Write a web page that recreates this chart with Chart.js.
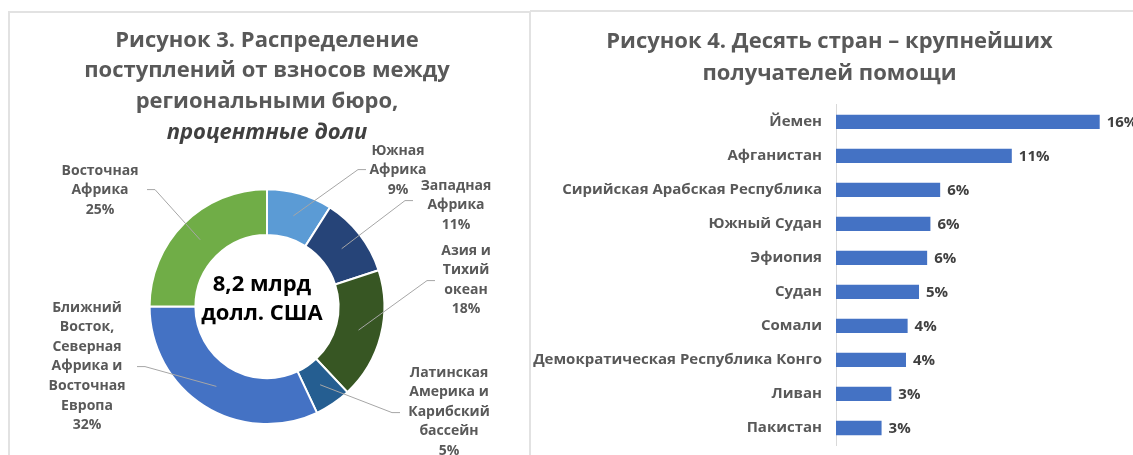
<!DOCTYPE html>
<html lang="ru">
<head>
<meta charset="utf-8">
<script src="https://cdn.jsdelivr.net/npm/chart.js@4.4.1/dist/chart.umd.min.js"></script>
<style>
  html, body { margin: 0; padding: 0; background: #fff; overflow: hidden; }
  body { width: 1133px; height: 455px; position: relative; font-family: "Open Sans", sans-serif; }
  .panel { position: absolute; box-sizing: border-box; }
  #panelLeft { left: 8px; top: 11px; width: 523px; height: 480px; border: 2px solid #e2e2e2; border-bottom: none; }
  #panelRight { left: 530px; top: 10px; width: 640px; height: 480px; border-top: 2px solid #e2e2e2; }
  #wrapLeft { position: absolute; left: 2px; top: 0; width: 530px; height: 455px; }
  #wrapRight { position: absolute; left: 530px; top: 0; width: 620px; height: 455px; }
</style>
</head>
<body>
<div class="panel" id="panelLeft"></div>
<div class="panel" id="panelRight"></div>
<div id="wrapLeft"><canvas id="donut"></canvas></div>
<div id="wrapRight"><canvas id="bars"></canvas></div>
<script>
// --- Figure 3: doughnut data ---
const regionLabels = [
  ["Южная", "Африка"],
  ["Западная", "Африка"],
  ["Азия и", "Тихий", "океан"],
  ["Латинская", "Америка и", "Карибский", "бассейн"],
  ["Ближний", "Восток,", "Северная", "Африка и", "Восточная", "Европа"],
  ["Восточная", "Африка"],
];
const regionShares = [9, 11, 18, 5, 32, 25];
const regionColors = ["#5B9BD5", "#264478", "#375623", "#255E91", "#4472C4", "#70AD47"];
const centerText = ["8,2 млрд", "долл. США"];

// --- Figure 4: bar data ---
const countries = [
  "Йемен",
  "Афганистан",
  "Сирийская Арабская Республика",
  "Южный Судан",
  "Эфиопия",
  "Судан",
  "Сомали",
  "Демократическая Республика Конго",
  "Ливан",
  "Пакистан",
];
const countryShares = [16.2, 10.8, 6.4, 5.8, 5.6, 5.1, 4.4, 4.3, 3.4, 2.8];

// label placement around the doughnut, relative to its centre:
// elbow of the leader line, and the centre of the first text line
const labelLayout = [
  { elbow: [91, -137], text: [131, -156] },
  { elbow: [138, -106], text: [189, -121] },
  { elbow: [160, -26], text: [199, -56] },
  { elbow: [125, 106], text: [182, 66] },
  { elbow: [-122, 60], text: [-180, 1] },
  { elbow: [-112, -117], text: [-167, -136] },
];

const GREY = "#595959";

const donutLabels = {
  id: "donutLabels",
  afterDatasetsDraw(chart) {
    const ctx = chart.ctx;
    const arcs = chart.getDatasetMeta(0).data;
    if (!arcs.length) return;
    const cx = arcs[0].x, cy = arcs[0].y;
    ctx.save();
    // leader lines
    ctx.strokeStyle = "#a6a6a6";
    ctx.lineWidth = 1;
    arcs.forEach((arc, i) => {
      const p = arc.tooltipPosition();
      const lay = labelLayout[i];
      const ex = cx + lay.elbow[0], ey = cy + lay.elbow[1];
      const dir = lay.text[0] > 0 ? 1 : -1;
      ctx.beginPath();
      ctx.moveTo(p.x, p.y);
      ctx.lineTo(ex, ey);
      ctx.lineTo(ex + dir * 8, ey);
      ctx.stroke();
    });
    // label text
    ctx.fillStyle = GREY;
    ctx.font = "bold 14px 'Open Sans'";
    ctx.textAlign = "center";
    ctx.textBaseline = "middle";
    arcs.forEach((arc, i) => {
      const lay = labelLayout[i];
      const lines = regionLabels[i].concat([regionShares[i] + "%"]);
      lines.forEach((t, j) => {
        ctx.fillText(t, cx + lay.text[0], cy + lay.text[1] + j * 19.6);
      });
    });
    // centre text
    ctx.fillStyle = "#000";
    ctx.font = "bold 22px 'Open Sans'";
    ctx.fillText(centerText[0], cx - 5, cy - 22);
    ctx.fillText(centerText[1], cx - 5, cy + 7);
    ctx.restore();
  },
};

new Chart(document.getElementById("donut"), {
  type: "doughnut",
  data: {
    labels: regionLabels.map((l) => l.join(" ")),
    datasets: [
      {
        data: regionShares,
        backgroundColor: regionColors,
        borderColor: "#fff",
        borderWidth: 2,
      },
    ],
  },
  options: {
    responsive: true,
    maintainAspectRatio: false,
    animation: false,
    cutout: "61%",
    layout: { padding: { left: 0, right: 0, top: 0, bottom: 30 } },
    plugins: {
      legend: { display: false },
      tooltip: { enabled: false },
      title: {
        display: true,
        text: ["Рисунок 3. Распределение", "поступлений от взносов между", "региональными бюро,"],
        color: GREY,
        font: { family: "'Open Sans'", size: 22, weight: "bold", lineHeight: 1.4 },
        padding: { top: 25, bottom: 0 },
      },
      subtitle: {
        display: true,
        text: "процентные доли",
        color: "#404040",
        font: { family: "'Open Sans'", size: 22, weight: "bold", style: "italic", lineHeight: 1.4 },
        padding: { top: 0, bottom: 40 },
      },
    },
  },
  plugins: [donutLabels],
});

const barValues = {
  id: "barValues",
  afterDatasetsDraw(chart) {
    const ctx = chart.ctx;
    const meta = chart.getDatasetMeta(0);
    ctx.save();
    ctx.fillStyle = "#404040";
    ctx.font = "bold 15px 'Open Sans'";
    ctx.textAlign = "left";
    ctx.textBaseline = "middle";
    meta.data.forEach((bar, i) => {
      ctx.fillText(Math.round(countryShares[i]) + "%", bar.x + 7, bar.y + 1);
    });
    ctx.restore();
  },
};

new Chart(document.getElementById("bars"), {
  type: "bar",
  data: {
    labels: countries,
    datasets: [
      {
        data: countryShares,
        backgroundColor: "#4472C4",
        categoryPercentage: 1,
        barPercentage: 0.42,
      },
    ],
  },
  options: {
    indexAxis: "y",
    responsive: true,
    maintainAspectRatio: false,
    animation: false,
    layout: { padding: { left: 0, right: 21, top: 0, bottom: 10 } },
    scales: {
      x: { display: false, min: 0, max: 18 },
      y: {
        afterFit: (scale) => {
          scale.width = 306;
          scale.paddingTop = 0;
          scale.paddingBottom = 0;
        },
        grid: { display: false, drawTicks: false },
        border: { display: true, color: "#d9d9d9", width: 1 },
        ticks: {
          color: GREY,
          padding: 14,
          font: { family: "'Open Sans'", size: 15, weight: "bold" },
        },
      },
    },
    plugins: {
      legend: { display: false },
      tooltip: { enabled: false },
      title: {
        display: true,
        text: ["Рисунок 4. Десять стран – крупнейших", "получателей помощи"],
        color: GREY,
        font: { family: "'Open Sans'", size: 22, weight: "bold", lineHeight: 1.45 },
        padding: { top: 26, bottom: 15 },
      },
    },
  },
  plugins: [barValues],
});
</script>
</body>
</html>
